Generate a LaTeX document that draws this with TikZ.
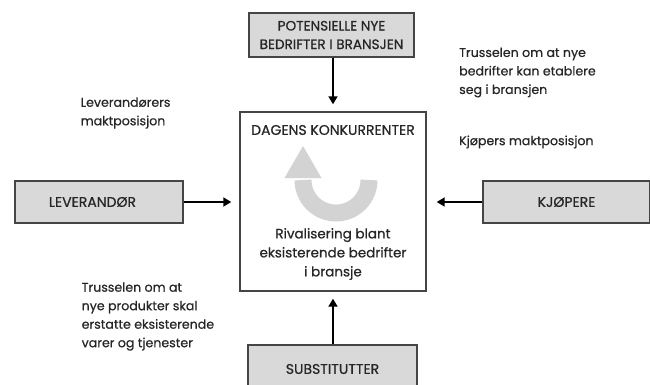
\documentclass[tikz,border=0pt]{standalone}
\usepackage{fontspec}
\setmainfont{Poppins}[FakeBold=0.6]
\usetikzlibrary{arrows.meta}
\definecolor{boxfill}{HTML}{D9D9D9}
\definecolor{boxline}{HTML}{454545}
\definecolor{txt}{HTML}{262626}
\definecolor{arcgray}{HTML}{D3D3D3}
\begin{document}
\begin{tikzpicture}[x=1pt,y=-1pt,
  font=\fontsize{12.6}{18.5}\selectfont, text=txt,
  graybox/.style={draw=boxline, line width=1.1pt, fill=boxfill, inner sep=0pt, align=center, font=\fontsize{14}{18.5}\selectfont},
  mainbox/.style={draw=boxline, line width=1.4pt, fill=white, inner sep=0pt},
  arr/.style={line width=1.8pt, -{Triangle[length=8pt,width=9pt]}},
  note/.style={anchor=west, align=left, inner sep=0pt}]
\useasboundingbox (0,0) rectangle (650,385);
\begin{scope}
\clip (0,0) rectangle (650,385);
\node[graybox, minimum width=165pt, minimum height=44pt, font=\fontsize{13.6}{18.5}\selectfont] (top) at (331.5,35) {POTENSIELLE NYE\\BEDRIFTER I BRANSJEN};
\node[mainbox, minimum width=186pt, minimum height=179pt] (mid) at (333,201.5) {};
\node[graybox, minimum width=168pt, minimum height=42pt] (left) at (99,202) {\hspace*{-13pt}LEVERANDØR};
\node[graybox, minimum width=167pt, minimum height=42pt] (right) at (566.5,202) {KJØPERE};
\node[graybox, minimum width=169pt, minimum height=48pt] (bot) at (332.5,369) {SUBSTITUTTER};
\end{scope}
% curved arrow inside center box
\draw[arcgray, line width=17pt] (369,180) arc[start angle=0, end angle=180, radius=33];
\fill[arcgray] (284.5,178) -- (321.5,178) -- (303,146) -- cycle;
% texts in center box
\node[inner sep=0pt, font=\fontsize{14}{18}\selectfont] (midtitle) at (333,130) {DAGENS KONKURRENTER};
\node[inner sep=0pt, align=center, font=\fontsize{13.5}{19}\selectfont] (midtext) at (333,254) {Rivalisering blant\\eksisterende bedrifter\\i bransje};
% arrows
\draw[arr, shorten >=7pt] (top.south -| mid.north) -- (mid.north);
\draw[arr, shorten >=8pt] (left.east) -- (left.east -| mid.west);
\draw[arr, shorten >=10pt] (right.west) -- (right.west -| mid.east);
\draw[arr, shorten >=7pt] (bot.north -| mid.south) -- (mid.south);
% side notes
\node[note] (n1) at (80.5,113) {Leverandørers\\maktposisjon};
\node[note] (n2) at (459,72.5) {Trusselen om at nye\\bedrifter kan etablere\\seg i bransjen};
\node[note] (n3) at (459,142) {Kjøpers maktposisjon};
\node[note] (n4) at (81.5,316.5) {Trusselen om at\\nye produkter skal\\erstatte eksisterende\\varer og tjenester};
\end{tikzpicture}
\end{document}
